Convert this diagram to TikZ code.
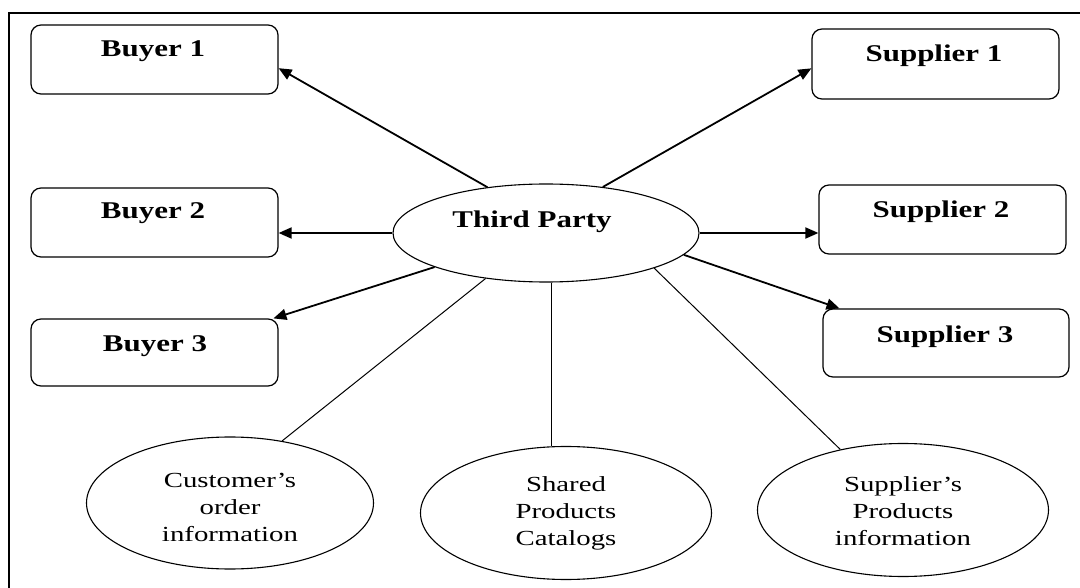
\documentclass[tikz,border=0pt]{standalone}
\usepackage{fontspec}
\setmainfont{Liberation Serif}
\newfontfamily\boldwide[FakeStretch=1.29]{Liberation Serif}
\newfontfamily\regwide[FakeStretch=1.34]{Liberation Serif}
\usetikzlibrary{shapes.geometric,arrows.meta}
\begin{document}
\begin{tikzpicture}[x=1pt,y=-1pt,
  box/.style={draw,rounded corners=10pt,line width=1.2pt,minimum width=247pt,minimum height=69pt,inner sep=0pt},
  oval/.style={draw,ellipse,line width=1.1pt,inner sep=0pt},
  btxt/.style={anchor=base,inner sep=0pt,font=\boldwide\bfseries\fontsize{24}{28}\selectfont},
  rtxt/.style={align=center,inner sep=0pt,font=\regwide\fontsize{21.5}{27}\selectfont},
  arr/.style={line width=1.8pt,-{Triangle[length=13pt,width=11pt]}},
  thin/.style={line width=1pt}]
\useasboundingbox (0,0) rectangle (1080,588);
\draw[line width=1.8pt] (1090,13) -- (9,13) -- (9,600);
% boxes
\node[box] (b1) at (154.5,59.5) {};
\node[box] (b2) at (154.5,222.5) {};
\node[box,minimum height=67pt] (b3) at (154.5,352.5) {};
\node[box,minimum height=70pt] (s1) at (935.5,64) {};
\node[box] (s2) at (942.5,219.5) {};
\node[box,minimum width=246pt,minimum height=68pt] (s3) at (946,343) {};
\node[btxt] (tb1) at (153,57) {Buyer 1};
\node[btxt] (tb2) at (153,219) {Buyer 2};
\node[btxt] (tb3) at (155,352) {Buyer 3};
\node[btxt] (ts1) at (934,62) {Supplier 1};
\node[btxt] (ts2) at (941,218) {Supplier 2};
\node[btxt] (ts3) at (945,342) {Supplier 3};
% central ellipse
\node[oval,minimum width=306pt,minimum height=98pt] (tp) at (546,233) {};
\node[btxt] (ttp) at (532,228) {Third Party};
% bottom ellipses
\node[oval,minimum width=287pt,minimum height=132pt] (co) at (230,503) {};
\node[oval,minimum width=291pt,minimum height=133pt] (sh) at (566,513) {};
\node[oval,minimum width=291pt,minimum height=133pt] (sp) at (903,510) {};
\node[rtxt] (tco) at (230,507) {Customer’s\\order\\information};
\node[rtxt] (tsh) at (566,513) {Shared\\Products\\Catalogs};
\node[rtxt] (tsp) at (903,511) {Supplier’s\\Products\\information};
% arrows
\draw[arr] (tp.142) -- (b1.-4.4);
\draw[arr] (tp.west) -- (tp.west -| b2.east);
\draw[arr] (tp.197) -- (b3.16);
\draw[arr] (tp.39) -- (s1.182);
\draw[arr] (tp.east) -- (tp.east -| s2.west);
\draw[arr] (tp.-9.3) -- (s3.162);
% plain lines
\draw[thin] (tp.217) -- (co.50);
\draw[thin] (tp.-84) -- (tp.-84 |- sh.north);
\draw[thin] (tp.-18.3) -- (sp.136);
\end{tikzpicture}
\end{document}
